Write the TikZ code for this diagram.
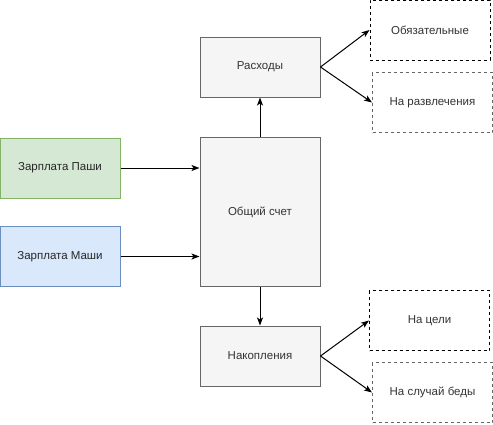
\documentclass[tikz,border=0pt]{standalone}
\usepackage{fontspec}
\setmainfont{Liberation Sans}
\usetikzlibrary{arrows.meta}
\definecolor{grayfill}{HTML}{F5F5F5}
\definecolor{graystroke}{HTML}{666666}
\definecolor{greenfill}{HTML}{D5E8D4}
\definecolor{greenstroke}{HTML}{82B366}
\definecolor{bluefill}{HTML}{DAE8FC}
\definecolor{bluestroke}{HTML}{6C8EBF}
\definecolor{txt}{HTML}{333333}
\tikzset{
  box/.style={draw, line width=1pt, minimum width=120pt, minimum height=60pt, inner sep=0pt, font=\fontsize{11.5}{13}\selectfont, anchor=center},
  graybox/.style={box, fill=grayfill, draw=graystroke, text=txt},
  greenbox/.style={box, fill=greenfill, draw=greenstroke, text=black!85},
  bluebox/.style={box, fill=bluefill, draw=bluestroke, text=black!85},
  dashbox/.style={box, draw=black, dash pattern=on 3pt off 3pt, text=txt},
  dashgraybox/.style={box, draw=graystroke, dash pattern=on 3pt off 3pt, text=txt},
  arr/.style={-{Stealth[length=8pt,width=6pt,inset=2pt]}, line width=1pt, black},
}
\begin{document}
\begin{tikzpicture}[x=1pt,y=-1pt]
\useasboundingbox (0,0) rectangle (493,424);
\node[graybox] (rash) at (260,67) {Расходы};
\node[dashbox] (obyaz) at (430,30) {Обязательные};
\node[dashgraybox] (razv) at (432.5,102.5) {На развлечения};
\node[greenbox] (pasha) at (60,168) {Зарплата Паши};
\node[bluebox] (masha) at (60,256.5) {Зарплата Маши};
\node[graybox, minimum height=149pt] (obsh) at (260,212) {Общий счет};
\node[graybox] (nakop) at (260,356) {Накопления};
\node[dashbox] (celi) at (429.5,320.5) {На цели};
\node[dashgraybox] (beda) at (432.5,392.5) {На случай беды};
\draw[arr] (pasha.east) -- (pasha.east -| obsh.west);
\draw[arr] (masha.east) -- (masha.east -| obsh.west);
\draw[arr] (obsh.north) -- (rash.south);
\draw[arr] (obsh.south) -- (nakop.south |- nakop.north);
\draw[arr] (rash.east) -- (obyaz.west);
\draw[arr] (rash.east) -- (razv.west);
\draw[arr] (nakop.east) -- (celi.west);
\draw[arr] (nakop.east) -- (beda.west);
\end{tikzpicture}
\end{document}
